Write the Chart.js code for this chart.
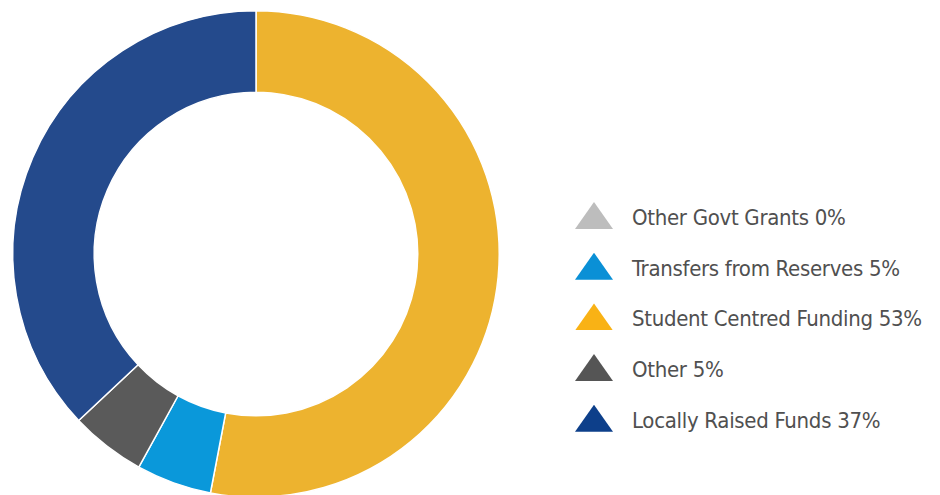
<!DOCTYPE html>
<html>
<head>
<meta charset="utf-8">
<script src="https://cdn.jsdelivr.net/npm/chart.js@4"></script>
<style>
  html, body { margin: 0; padding: 0; background: #ffffff; width: 940px; height: 495px; overflow: hidden; }
  #wrap { position: absolute; left: 0; top: 0; width: 520px; height: 510px; }
  #legend { position: absolute; left: 575px; top: 202px; }
  .row { position: absolute; left: 0; height: 28px; white-space: nowrap; }
  .tri { position: absolute; left: 0; top: 0; width: 38px; height: 27px; clip-path: polygon(50% 0, 100% 100%, 0 100%); }
  .lbl { position: absolute; left: 57px; top: 1px; font-family: "DejaVu Sans Condensed", "Liberation Sans Narrow", sans-serif; font-stretch: condensed; font-size: 22px; letter-spacing: -0.3px; color: #505050; line-height: 30px; }
</style>
</head>
<body>
<div id="wrap"><canvas id="c"></canvas></div>
<div id="legend"></div>
<script>
// Data (clockwise from 12 o'clock)
const categories = ['Student Centred Funding', 'Transfers from Reserves', 'Other', 'Locally Raised Funds', 'Other Govt Grants'];
const values = [53, 5, 5, 37, 0];
const ringColors = ['#EDB32F', '#0A98DA', '#5A5A5A', '#244A8C', '#BDBDBD'];
// Legend order and swatch colours
const legendOrder = ['Other Govt Grants', 'Transfers from Reserves', 'Student Centred Funding', 'Other', 'Locally Raised Funds'];
const legendColors = ['#BDBDBD', '#0A90D6', '#F9B215', '#555555', '#0D3F8A'];

new Chart(document.getElementById('c'), {
  type: 'doughnut',
  data: {
    labels: categories,
    datasets: [{
      data: values,
      backgroundColor: ringColors,
      borderColor: '#ffffff',
      borderWidth: 1.5,
      hoverOffset: 0
    }]
  },
  options: {
    responsive: true,
    maintainAspectRatio: false,
    animation: false,
    cutout: '66.5%',
    layout: { padding: { top: 10, bottom: 12, left: 12, right: 20 } },
    plugins: { legend: { display: false }, tooltip: { enabled: false } }
  }
});

const legend = document.getElementById('legend');
legendOrder.forEach((name, i) => {
  const idx = categories.indexOf(name);
  const row = document.createElement('div');
  row.className = 'row';
  row.style.top = (i * 50.7) + 'px';
  const tri = document.createElement('div');
  tri.className = 'tri';
  tri.style.background = legendColors[i];
  const lbl = document.createElement('div');
  lbl.className = 'lbl';
  lbl.textContent = name + ' ' + values[idx] + '%';
  row.appendChild(tri);
  row.appendChild(lbl);
  legend.appendChild(row);
});
</script>
</body>
</html>
